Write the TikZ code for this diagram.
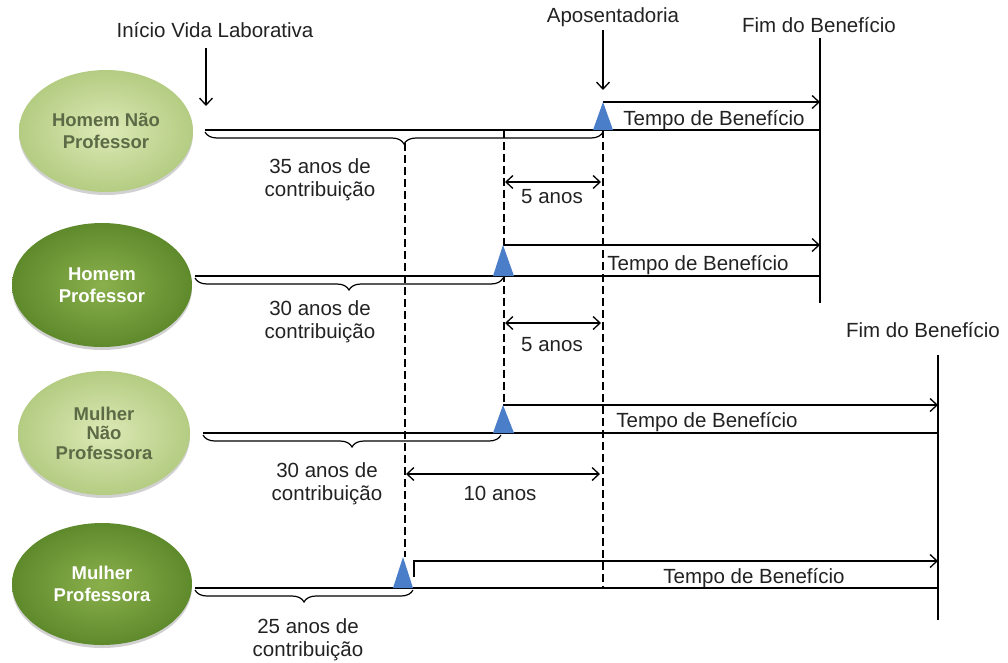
\documentclass[tikz,border=0pt]{standalone}
\usepackage{fontspec}
\setmainfont{Liberation Sans}
\usetikzlibrary{shapes.geometric,arrows.meta,decorations.pathreplacing,shadows}
\definecolor{txt}{HTML}{222222}
\definecolor{lin}{HTML}{DDE9B6}
\definecolor{lout}{HTML}{B4CC82}
\definecolor{ltxt}{HTML}{5C6B46}
\definecolor{din}{HTML}{8AB04C}
\definecolor{dout}{HTML}{5F8A2C}
\definecolor{triblue}{HTML}{4A7EC8}
\begin{document}
\begin{tikzpicture}[x=1pt,y=-1pt,
  every node/.style={font=\fontsize{20.5}{23}\selectfont, text=txt, inner sep=0pt},
  ln/.style={line width=1.3pt, draw=black},
  tipb/.tip={Straight Barb[length=7pt,width=13pt]},
  arr/.style={ln, -tipb},
  darr/.style={ln, tipb-tipb},
  dsh/.style={line width=1.2pt, draw=black, dash pattern=on 8pt off 4pt},
  brc/.style={line width=1.2pt, draw=black, decorate, decoration={brace, amplitude=12pt, raise=2pt, mirror}},
  tri/.style={fill=triblue},
  ovl/.style={ellipse, inner sep=0pt, align=center,
    font=\fontsize{18.5}{21.5}\selectfont\bfseries,
    drop shadow={shadow xshift=0pt, shadow yshift=-3pt, opacity=0.18, fill=black}},
  ovlight/.style={ovl, inner color=lin, outer color=lout, text=ltxt},
  ovdark/.style={ovl, inner color=din, outer color=dout, text=white}
]
\useasboundingbox (0,0) rectangle (1008,662);

% ellipses
\node[ovlight, minimum width=174pt, minimum height=122pt] (e1) at (106,131) {Homem Não\\Professor};
\node[ovdark, minimum width=180pt, minimum height=124pt] (e2) at (102,285) {Homem\\Professor};
\node[ovlight, minimum width=172pt, minimum height=124pt, font=\fontsize{18.5}{19.5}\selectfont\bfseries] (e3) at (104,433) {Mulher\\Não\\Professora};
\node[ovdark, minimum width=180pt, minimum height=122pt] (e4) at (102,584) {Mulher\\Professora};

% coordinates
\coordinate (iA) at (206,48);  \coordinate (iB) at (206,106);
\coordinate (aA) at (603,30);  \coordinate (aB) at (603,90);
\coordinate (f1t) at (820,38); \coordinate (f1b) at (820,303);
\coordinate (f2t) at (938,355);\coordinate (f2b) at (938,620);

\coordinate (r1s) at (205,130); \coordinate (r1e) at (820,130); \coordinate (r1r) at (603,130);
\coordinate (r2s) at (195,276); \coordinate (r2e) at (820,276); \coordinate (r2r) at (503,276);
\coordinate (r3s) at (203,433); \coordinate (r3e) at (938,433); \coordinate (r3r) at (501,433);
\coordinate (r4s) at (195,588); \coordinate (r4e) at (938,588); \coordinate (r4r) at (413,588);

\coordinate (p1s) at (603,102); \coordinate (p1e) at (820,102);
\coordinate (p2s) at (503,245); \coordinate (p2e) at (820,245);
\coordinate (p3s) at (503,405); \coordinate (p3e) at (938,405);
\coordinate (p4s) at (414,577); \coordinate (p4k) at (414,561); \coordinate (p4e) at (938,561);

\coordinate (d1t) at (405,143); \coordinate (d1b) at (405,557);
\coordinate (d2t) at (504,130); \coordinate (d2b) at (504,405);
\coordinate (d3t) at (603,130); \coordinate (d3b) at (603,588);

% dashed guides
\draw[dsh] (d1t) -- (d1b);
\draw[dsh] (d2t) -- (d2b);
\draw[dsh] (d3t) -- (d3b);

% end of benefit lines
\draw[ln] (f1t) -- (f1b);
\draw[ln] (f2t) -- (f2b);

% main lines
\draw[ln] (r1s) -- (r1e);
\draw[ln] (r2s) -- (r2e);
\draw[ln] (r3s) -- (r3e);
\draw[ln] (r4s) -- (r4e);

% braces
\draw[brc] (r1s) -- (r1r);
\draw[brc] (r2s) -- (r2r);
\draw[brc] (r3s) -- (r3r);
\draw[brc] (r4s) -- (r4r);

% arrows
\draw[arr] (iA) -- (iB);
\draw[arr] (aA) -- (aB);
\draw[arr] (p1s) -- (p1e);
\draw[arr] (p2s) -- (p2e);
\draw[arr] (p3s) -- (p3e);
\draw[arr] (p4s) -- (p4k) -- (p4e);

\coordinate (y1a) at (505,182); \coordinate (y1b) at (601,182);
\coordinate (y2a) at (505,323); \coordinate (y2b) at (601,323);
\coordinate (y3a) at (406,474); \coordinate (y3b) at (600,474);
\draw[darr] (y1a) -- (y1b);
\draw[darr] (y2a) -- (y2b);
\draw[darr] (y3a) -- (y3b);

% triangles
\fill[tri] (593,130) -- (p1s) -- (613,130) -- cycle;
\fill[tri] (493,276) -- (p2s) -- (514,276) -- cycle;
\fill[tri] (493,433) -- (p3s) -- (514,433) -- cycle;
\fill[tri] (393,588) -- (403,557) -- (413,588) -- cycle;

% labels
\node[anchor=base] (tInicio) at (215,37) {Início Vida Laborativa};
\node[anchor=base] (tApos) at (613,22) {Aposentadoria};
\node[anchor=base] (tFim1) at (819,32) {Fim do Benefício};
\node[anchor=base] (tFim2) at (923,337) {Fim do Benefício};

\node[anchor=base] (b1) at (714,125) {Tempo de Benefício};
\node[anchor=base] (b2) at (698,270) {Tempo de Benefício};
\node[anchor=base] (b3) at (707,427) {Tempo de Benefício};
\node[anchor=base] (b4) at (754,583) {Tempo de Benefício};

\node[anchor=base] (y1) at (552,203) {5 anos};
\node[anchor=base] (y2) at (552,351) {5 anos};
\node[anchor=base] (y3) at (500,500) {10 anos};

\node[align=center] (c1) at (320,180) {35 anos de\\contribuição};
\node[align=center] (c2) at (320,322) {30 anos de\\contribuição};
\node[align=center] (c3) at (327,484) {30 anos de\\contribuição};
\node[align=center] (c4) at (308,640) {25 anos de\\contribuição};
\end{tikzpicture}
\end{document}
